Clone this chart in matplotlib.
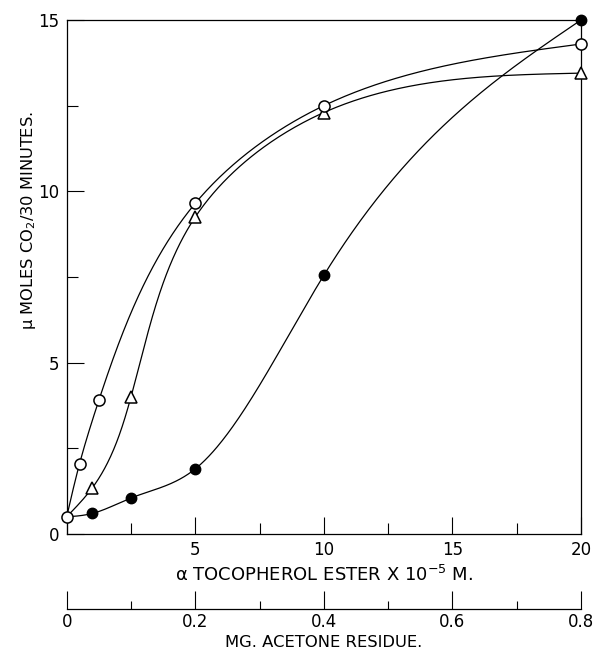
import numpy as np
import matplotlib
matplotlib.use("Agg")
import matplotlib.pyplot as plt
from matplotlib.ticker import MultipleLocator, FixedLocator, FixedFormatter

plt.rcParams['font.family'] = ['DejaVu Sans']

# ---- data ----
x_open = [0, 0.5, 1.25, 5, 10, 20]
y_open = [0.5, 2.05, 3.9, 9.65, 12.5, 14.3]

x_tri = [0, 1, 2.5, 5, 10, 20]
y_tri = [0.5, 1.35, 4.0, 9.25, 12.3, 13.45]

x_fill = [0, 1, 2.5, 5, 10, 20]
y_fill = [0.5, 0.6, 1.05, 1.9, 7.55, 15.0]

main_ticks = [5, 10, 15, 20]
main_ticklabels = ["5", "10", "15", "20"]
y_ticks = [0, 5, 10, 15]
y_ticklabels = ["0", "5", "10", "15"]
sec_ticks = [0, 0.2, 0.4, 0.6, 0.8]
sec_ticklabels = ["0", "0.2", "0.4", "0.6", "0.8"]

xlabel = "\u03b1 TOCOPHEROL ESTER X 10$^{-5}$ M."
ylabel = "\u03bc MOLES CO$_2$/30 MINUTES."
seclabel = "MG. ACETONE RESIDUE."


def natural_eval(t, v, ts):
    """Natural cubic spline evaluation (used only to draw smooth lines)."""
    t = np.asarray(t, float)
    v = np.asarray(v, float)
    k = len(t)
    h = np.diff(t)
    A = np.zeros((k, k))
    b = np.zeros(k)
    A[0, 0] = 1
    A[-1, -1] = 1
    for i in range(1, k - 1):
        A[i, i - 1] = h[i - 1]
        A[i, i] = 2 * (h[i - 1] + h[i])
        A[i, i + 1] = h[i]
        b[i] = 3 * ((v[i + 1] - v[i]) / h[i] - (v[i] - v[i - 1]) / h[i - 1])
    c = np.linalg.solve(A, b)
    idx = np.clip(np.searchsorted(t, ts) - 1, 0, k - 2)
    dx = ts - t[idx]
    bb = (v[idx + 1] - v[idx]) / h[idx] - h[idx] * (2 * c[idx] + c[idx + 1]) / 3
    dd = (c[idx + 1] - c[idx]) / (3 * h[idx])
    return v[idx] + bb * dx + c[idx] * dx ** 2 + dd * dx ** 3


def smooth_param(x, y, sx=25.7, sy=34.3, n=500):
    x = np.asarray(x, float)
    y = np.asarray(y, float)
    seg = np.hypot(np.diff(x) * sx, np.diff(y) * sy)
    t = np.concatenate([[0], np.cumsum(seg)])
    ts = np.linspace(0, t[-1], n)
    return natural_eval(t, x, ts), natural_eval(t, y, ts)


def smooth_fn(x, y, n=500):
    xs = np.linspace(x[0], x[-1], n)
    return xs, natural_eval(x, y, xs)


fig = plt.figure(figsize=(5.97, 6.56), dpi=100)
L, W = 0.1117, 0.8615
ax = fig.add_axes([L, 0.186, W, 0.7835])

lw = 0.9
for xs_, ys_, fn in [(x_open, y_open, smooth_param),
                     (x_tri, y_tri, smooth_param),
                     (x_fill, y_fill, smooth_fn)]:
    px, py = fn(xs_, ys_)
    ax.plot(px, py, color='black', lw=lw, zorder=2, clip_on=False)

ax.plot(x_fill[1:], y_fill[1:], 'o', ms=7.5, mfc='black', mec='black', mew=1.0, zorder=3, clip_on=False)
ax.plot(x_tri[1:], y_tri[1:], '^', ms=8, mfc='white', mec='black', mew=1.1, zorder=3, clip_on=False)
ax.plot(x_open, y_open, 'o', ms=8, mfc='white', mec='black', mew=1.1, zorder=4, clip_on=False)

ax.set_xlim(0, 20)
ax.set_ylim(0, 15)
ax.xaxis.set_major_locator(FixedLocator(main_ticks))
ax.xaxis.set_major_formatter(FixedFormatter(main_ticklabels))
ax.xaxis.set_minor_locator(MultipleLocator(2.5))
ax.yaxis.set_major_locator(FixedLocator(y_ticks))
ax.yaxis.set_major_formatter(FixedFormatter(y_ticklabels))
ax.yaxis.set_minor_locator(MultipleLocator(2.5))
ax.tick_params(which='both', direction='in', top=False, right=False, labelsize=12, width=0.8)
ax.tick_params(which='major', length=12, pad=5)
ax.tick_params(which='minor', length=8)
for s in ax.spines.values():
    s.set_linewidth(0.9)

ax.set_xlabel(xlabel, fontsize=13, labelpad=4)
ax.set_ylabel(ylabel, fontsize=11.7)
ax.yaxis.set_label_coords(-0.056, 0.61)

# secondary scale below
ax2 = fig.add_axes([L, 0.0716, W, 1e-6])
ax2.set_xlim(0, 0.8)
ax2.patch.set_visible(False)
for k in ['top', 'left', 'right']:
    ax2.spines[k].set_visible(False)
ax2.spines['bottom'].set_linewidth(0.9)
ax2.set_yticks([])
ax2.xaxis.set_major_locator(FixedLocator(sec_ticks))
ax2.xaxis.set_major_formatter(FixedFormatter(sec_ticklabels))
ax2.xaxis.set_minor_locator(MultipleLocator(0.1))
ax2.tick_params(which='both', direction='in', labelsize=12, width=0.8)
ax2.tick_params(which='major', length=13, pad=3)
ax2.tick_params(which='minor', length=6)
ax2.set_xlabel(seclabel, fontsize=11.8, labelpad=3)

fig.savefig("out.png", dpi=100)
